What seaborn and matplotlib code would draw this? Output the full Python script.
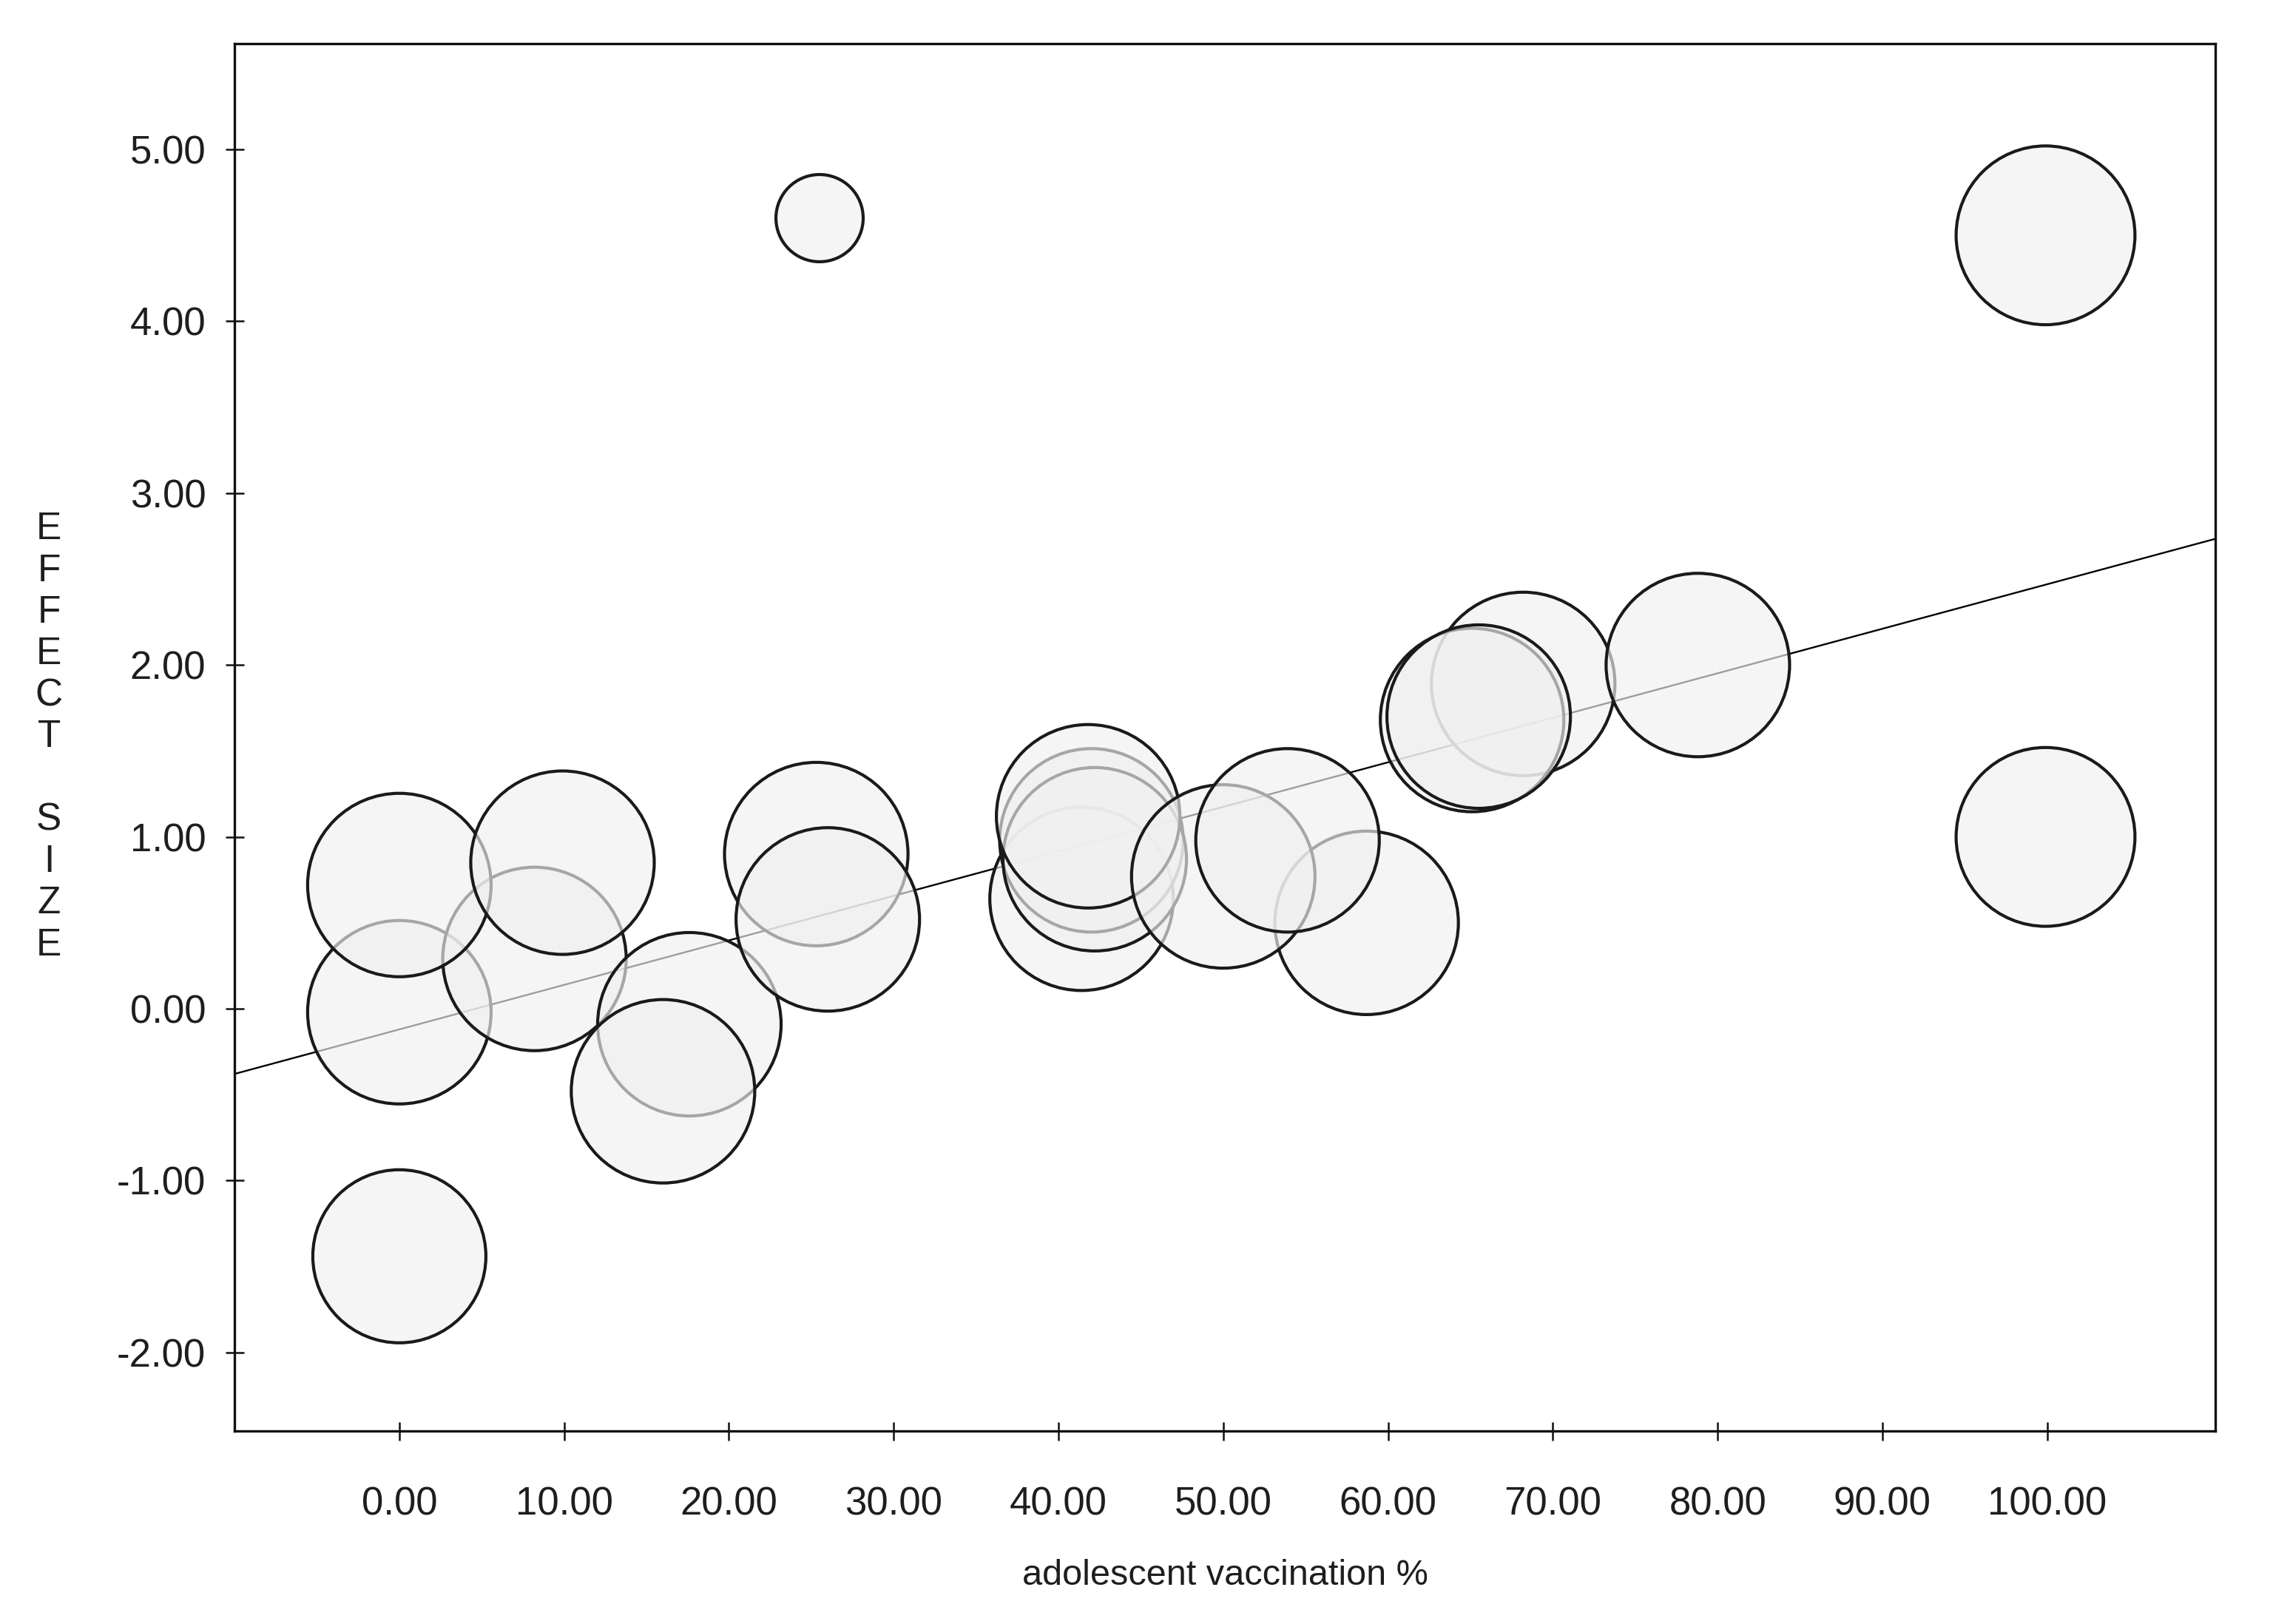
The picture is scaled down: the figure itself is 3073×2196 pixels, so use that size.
import numpy as np
import pandas as pd
import matplotlib
matplotlib.use("Agg")
import matplotlib.pyplot as plt
import seaborn as sns
from matplotlib.ticker import FormatStrFormatter

# ---------------- data ----------------
# listed in drawing order (later points drawn on top)
vaccination_pct = [0.0, 8.2, 0.0, 9.9, 0.0,
                   17.6, 16.0, 25.3, 26.0, 25.5,
                   41.4, 42.0, 42.2, 41.8,
                   58.7, 50.0, 53.9,
                   68.2, 65.1, 65.5, 78.8,
                   99.9, 99.9]
effect_size = [-0.02, 0.29, 0.72, 0.85, -1.44,
               -0.09, -0.48, 0.90, 0.52, 4.60,
               0.64, 0.98, 0.87, 1.12,
               0.50, 0.77, 0.98,
               1.89, 1.68, 1.70, 2.00,
               4.50, 1.00]
study_weight = [1.0, 1.0, 1.0, 1.0, 0.89,
                1.0, 1.0, 1.0, 1.0, 0.226,
                1.0, 1.0, 1.0, 1.0,
                1.0, 1.0, 1.0,
                1.0, 1.0, 1.0, 1.0,
                0.95, 0.95]

reg_intercept = -0.120
reg_slope = 0.0259

x_ticks = [0, 10, 20, 30, 40, 50, 60, 70, 80, 90, 100]
y_ticks = [-2, -1, 0, 1, 2, 3, 4, 5]
x_limits = (-10.0, 110.2)
y_limits = (-2.456, 5.615)

x_label = "adolescent vaccination %"
y_label = "EFFECT SIZE"

df = pd.DataFrame({"x": vaccination_pct, "y": effect_size, "w": study_weight})

# ---------------- style ----------------
sns.set_theme(style="white")
plt.rcParams["font.family"] = ["Liberation Sans", "DejaVu Sans"]
text_color = "#1e1e1e"

fig = plt.figure(figsize=(30.73, 21.96), dpi=100)
ax = fig.add_axes([0.1032, 0.1189, 0.9746 - 0.1032, 0.9731 - 0.1189])

# regression line (drawn beneath the translucent bubbles)
line_x = np.array(x_limits)
line_y = reg_intercept + reg_slope * line_x
sns.lineplot(x=line_x, y=line_y, ax=ax, color="black", linewidth=1.7,
             zorder=1, legend=False)

# bubbles
max_area = 31900
sns.scatterplot(data=df, x="x", y="y", size="w", sizes=(0, max_area),
                size_norm=(0, 1), legend=False, ax=ax, zorder=2)
coll = ax.collections[-1]
coll.set_facecolor((0.94, 0.94, 0.94, 0.66))
coll.set_edgecolor("#1a1a1a")
coll.set_linewidth(3.0)

ax.set_xlim(*x_limits)
ax.set_ylim(*y_limits)
ax.set_xticks(x_ticks)
ax.set_yticks(y_ticks)
ax.xaxis.set_major_formatter(FormatStrFormatter("%.2f"))
ax.yaxis.set_major_formatter(FormatStrFormatter("%.2f"))

ax.tick_params(axis="both", which="major", bottom=True, left=True,
               top=False, right=False, direction="inout", length=18,
               width=1.8, colors="#111111", labelcolor=text_color,
               labelsize=38)
ax.tick_params(axis="x", pad=45)
ax.tick_params(axis="y", pad=19)

for sp in ax.spines.values():
    sp.set_visible(True)
    sp.set_color("#111111")
    sp.set_linewidth(2.4)

ax.set_xlabel(x_label, fontsize=35, color=text_color)
ax.xaxis.set_label_coords(0.5, -0.0925)

stacked = "\n".join(list(y_label))
ax.set_ylabel(stacked, rotation=0, fontsize=37, color=text_color,
              va="center", ha="center", linespacing=1.19)
ax.yaxis.set_label_coords(-0.0937, 0.5)

ax.grid(False)
fig.savefig("out.png", dpi=100, facecolor="white")
